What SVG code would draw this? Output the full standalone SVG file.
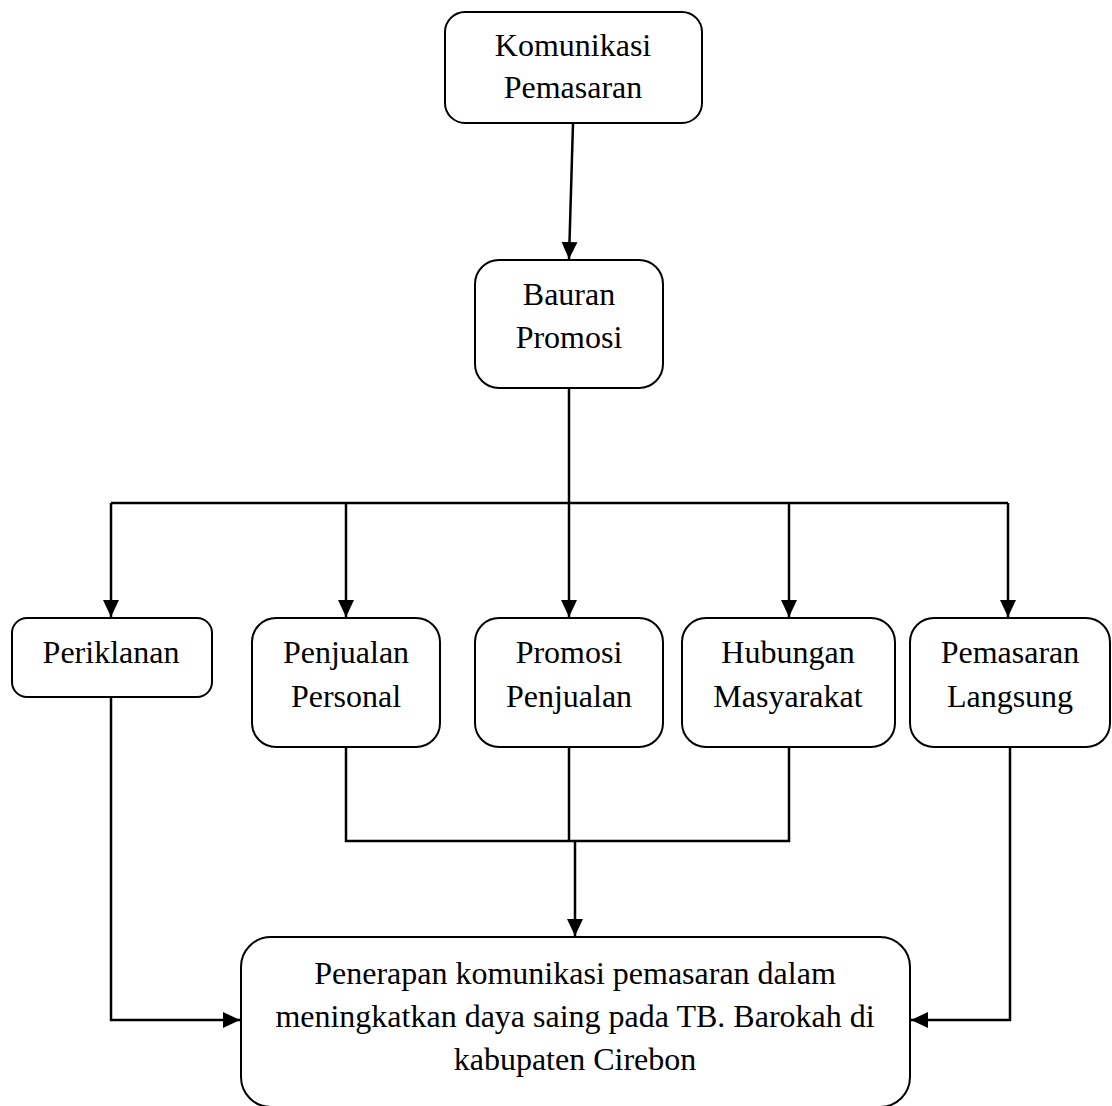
<svg xmlns="http://www.w3.org/2000/svg" width="1112" height="1106" viewBox="0 0 1112 1106">
<style>
.box{fill:#fff;stroke:#000;stroke-width:2}
.t{font-family:'Liberation Serif','Times New Roman',Tinos,Times,serif;font-size:32px;fill:#000;text-anchor:middle}
.c{fill:none;stroke:#000;stroke-width:2.5}
</style>
<defs>
<marker id="ah" markerUnits="userSpaceOnUse" markerWidth="18" markerHeight="18" viewBox="0 0 18 18" refX="17" refY="9" orient="auto">
<path d="M0,1 L17,9 L0,17 Z" fill="#000"/>
</marker>
</defs>
<rect width="1112" height="1106" fill="#fff"/>
<g id="connectors">
<path class="c" d="M573,123 L569,259" marker-end="url(#ah)"/>
<path class="c" d="M569,388 L569,503"/>
<path class="c" d="M111,503 L1008,503"/>
<path class="c" d="M111,503 L111,617" marker-end="url(#ah)"/>
<path class="c" d="M346,503 L346,617" marker-end="url(#ah)"/>
<path class="c" d="M569,503 L569,617" marker-end="url(#ah)"/>
<path class="c" d="M789,503 L789,617" marker-end="url(#ah)"/>
<path class="c" d="M1008,503 L1008,617" marker-end="url(#ah)"/>
<path class="c" d="M346,747 L346,841 L789,841 L789,747"/>
<path class="c" d="M569,747 L569,841"/>
<path class="c" d="M575,841 L575,936" marker-end="url(#ah)"/>
<path class="c" d="M111,697 L111,1020 L240,1020" marker-end="url(#ah)"/>
<path class="c" d="M1010,747 L1010,1020 L911,1020" marker-end="url(#ah)"/>
</g>
<g id="komunikasi">
<rect class="box" x="445" y="12" width="257" height="111" rx="20"/>
<text class="t" font-family="Liberation Serif" x="573" y="56">Komunikasi</text>
<text class="t" font-family="Liberation Serif" x="573" y="98">Pemasaran</text>
</g>
<g id="bauran">
<rect class="box" x="475" y="260" width="188" height="128" rx="24"/>
<text class="t" font-family="Liberation Serif" x="569" y="305">Bauran</text>
<text class="t" font-family="Liberation Serif" x="569" y="348">Promosi</text>
</g>
<g id="periklanan">
<rect class="box" x="12" y="618" width="200" height="79" rx="15"/>
<text class="t" font-family="Liberation Serif" x="111" y="663">Periklanan</text>
</g>
<g id="penjualan-personal">
<rect class="box" x="252" y="618" width="188" height="129" rx="24"/>
<text class="t" font-family="Liberation Serif" x="346" y="663">Penjualan</text>
<text class="t" font-family="Liberation Serif" x="346" y="707">Personal</text>
</g>
<g id="promosi-penjualan">
<rect class="box" x="475" y="618" width="188" height="129" rx="24"/>
<text class="t" font-family="Liberation Serif" x="569" y="663">Promosi</text>
<text class="t" font-family="Liberation Serif" x="569" y="707">Penjualan</text>
</g>
<g id="hubungan-masyarakat">
<rect class="box" x="682" y="618" width="213" height="129" rx="24"/>
<text class="t" font-family="Liberation Serif" x="788" y="663">Hubungan</text>
<text class="t" font-family="Liberation Serif" x="788" y="707">Masyarakat</text>
</g>
<g id="pemasaran-langsung">
<rect class="box" x="910" y="618" width="200" height="129" rx="24"/>
<text class="t" font-family="Liberation Serif" x="1010" y="663">Pemasaran</text>
<text class="t" font-family="Liberation Serif" x="1010" y="707">Langsung</text>
</g>
<g id="penerapan">
<rect class="box" x="241" y="937" width="669" height="170" rx="30"/>
<text class="t" font-family="Liberation Serif" x="575" y="984">Penerapan komunikasi pemasaran dalam</text>
<text class="t" font-family="Liberation Serif" x="575" y="1027">meningkatkan daya saing pada TB. Barokah di</text>
<text class="t" font-family="Liberation Serif" x="575" y="1070">kabupaten Cirebon</text>
</g>
</svg>
